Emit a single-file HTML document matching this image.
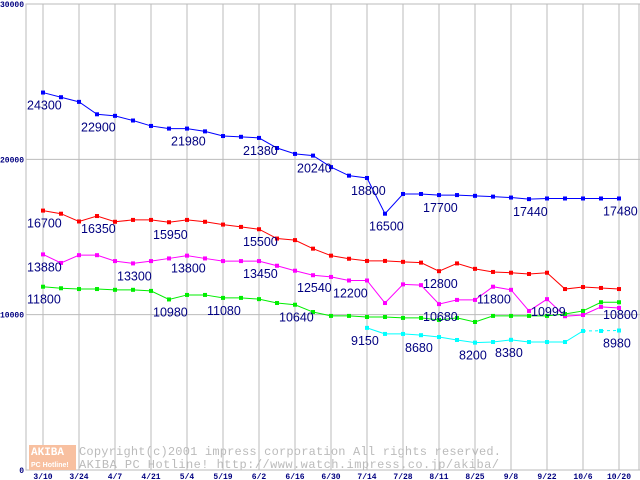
<!DOCTYPE html>
<html><head><meta charset="utf-8"><style>
body{margin:0;background:#fff}
svg{display:block}
.tk{font-family:"Liberation Mono",monospace;font-size:8px;font-weight:bold;fill:#000080}
.lb{font-family:"Liberation Sans",sans-serif;font-size:12.5px;fill:#000080}
</style></head><body>
<svg id="c" width="640" height="480" xmlns="http://www.w3.org/2000/svg">
<g id="grid"></g>
<g>
<rect x="29" y="445" width="47" height="25" fill="#f8c0a0"/>
<text x="31" y="455" font-family="Liberation Mono,monospace" font-size="11" font-weight="bold" fill="#fff">AKIBA</text>
<text x="31" y="467" font-family="Liberation Sans,sans-serif" font-size="7" font-weight="bold" fill="#fff">PC Hotline!</text>
<text x="79" y="455" font-family="Liberation Mono,monospace" font-size="12" fill="#bbb" textLength="422">Copyright(c)2001 impress corporation All rights reserved.</text>
<text x="79" y="468" font-family="Liberation Mono,monospace" font-size="12" fill="#bbb" textLength="420">AKIBA PC Hotline!  http://www.watch.impress.co.jp/akiba/</text>
</g>
<g id="series"></g>
<g id="labels"></g>
</svg>
<script>
const xLabels=["3/10","3/24","4/7","4/21","5/4","5/19","6/2","6/16","6/30","7/14","7/28","8/11","8/25","9/8","9/22","10/6","10/20"];
const yTicks=[0,10000,20000,30000];
const blue=[24300,24000,23700,22900,22800,22500,22150,21980,21980,21800,21500,21450,21380,20730,20350,20240,19500,18950,18800,16500,17770,17770,17700,17700,17650,17600,17540,17440,17480,17480,17480,17480,17480];
const red=[16700,16500,16000,16350,15980,16100,16100,15950,16100,15980,15800,15650,15500,14900,14800,14250,13800,13600,13460,13460,13400,13350,12800,13300,12950,12750,12700,12620,12700,11650,11780,11720,11650];
const magenta=[13880,13330,13830,13830,13450,13300,13450,13620,13800,13620,13450,13450,13450,13150,12830,12540,12430,12200,12200,10750,11950,11900,10680,10950,10950,11800,11600,10240,10999,9900,9980,10500,10430];
const green=[11800,11700,11650,11650,11600,11600,11530,10980,11270,11270,11080,11080,11000,10750,10640,10170,9920,9920,9850,9850,9790,9790,9660,9790,9530,9920,9920,9920,9920,10040,10240,10800,10800];
const cyan=[null,null,null,null,null,null,null,null,null,null,null,null,null,null,null,null,null,null,9150,8760,8760,8680,8560,8370,8200,8240,8380,8240,8240,8240,8950,8950,8980];
const labelIdx=[[0,0],[0,3],[0,8],[0,12],[0,15],[0,18],[0,19],[0,22],[0,27],[0,32],
[1,0],[1,3],[1,7],[1,12],[1,22],
[2,0],[2,5],[2,8],[2,12],[2,15],[2,17],[2,22],[2,25],[2,28],
[3,0],[3,7],[3,10],[3,14],[3,32],
[4,18],[4,21],[4,24],[4,26],[4,32]];
const S=[blue,red,magenta,green,cyan];
const colors=["#0000ff","#ff0000","#ff00ff","#00ee00","#00ffff"];
const names=["blue-series","red-series","magenta-series","green-series","cyan-series"];
const x=i=>43+i*18;
const y=v=>470-v*0.015533;
const NS="http://www.w3.org/2000/svg";
function mk(t,a,p){const e=document.createElementNS(NS,t);for(const k in a)e.setAttribute(k,a[k]);p.appendChild(e);return e;}
const g=document.getElementById('grid');
mk('rect',{x:26,y:4,width:613,height:466,fill:'none',stroke:'#bbb'},g);
yTicks.forEach(v=>{const l=mk('line',{x1:26,x2:640,y1:y(v),y2:y(v),stroke:'#bbb'},g);


const t=mk('text',{x:24,y:y(v)+3,'text-anchor':'end',class:'tk'},g);t.textContent=v;

});
xLabels.forEach((s,i)=>{const xx=x(i*2);const l=mk('line',{x1:xx,x2:xx,y1:4,y2:470,stroke:'#bbb'},g);


const t=mk('text',{x:xx,y:479,'text-anchor':'middle',class:'tk'},g);t.textContent=s;

});
const sg=document.getElementById('series');
S.forEach((arr,si)=>{const grp=mk('g',{},sg);


let d='';let started=false;
arr.forEach((v,i)=>{if(v==null)return;
if(si===4&&i===31){mk('line',{x1:x(30),y1:y(arr[30]),x2:x(32),y2:y(arr[32]),stroke:colors[si],'stroke-dasharray':'3,3'},grp);}
if(!(si===4&&i>=31)){d+=(started?'L':'M')+x(i)+','+y(v);started=true;}});
mk('path',{d:d,fill:'none',stroke:colors[si],'stroke-width':1}, grp);
arr.forEach((v,i)=>{if(v==null)return;const r=mk('rect',{x:x(i)-2,y:y(v)-2,width:4,height:4,fill:colors[si]},grp);

});});
const lg=document.getElementById('labels');
labelIdx.forEach(([si,i])=>{const v=S[si][i];const t=mk('text',{x:x(i)-16,y:y(v)+17,class:'lb'},lg);t.textContent=v;

});
</script>
</body></html>
